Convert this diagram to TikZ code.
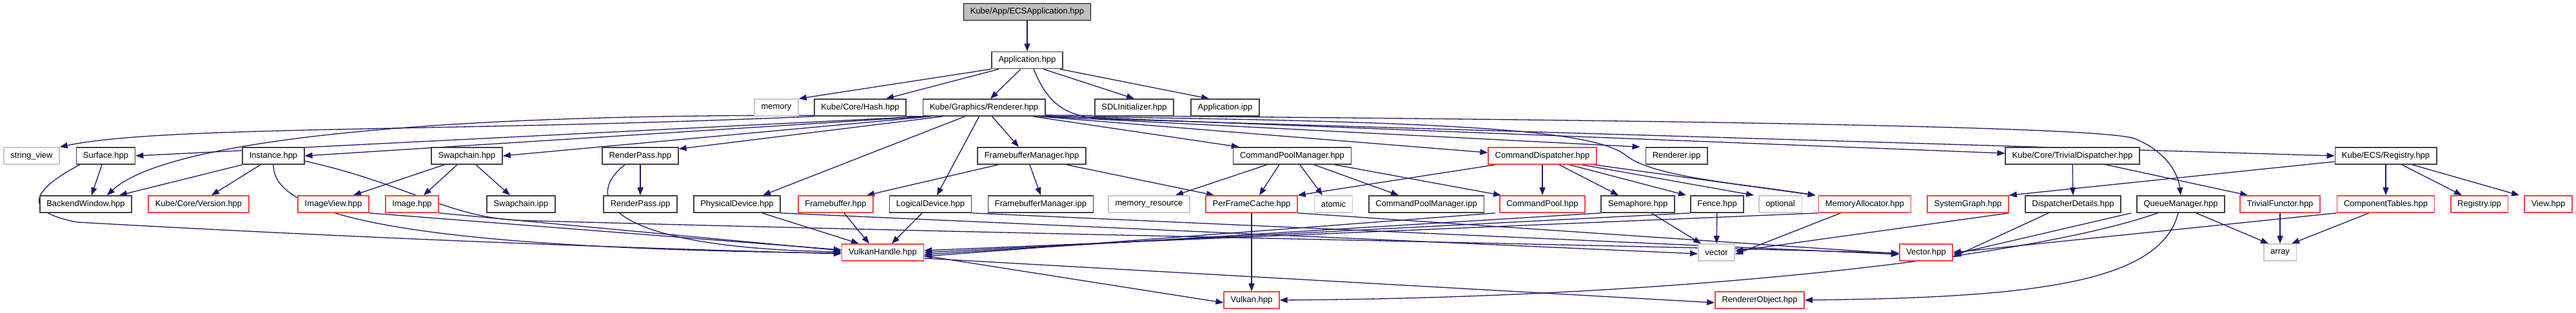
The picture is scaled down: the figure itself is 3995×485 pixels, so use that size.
\documentclass[tikz,border=0pt]{standalone}
\usepackage{fontspec}
\setmainfont{Liberation Sans}
\usetikzlibrary{arrows.meta}
\pgfdeclarelayer{background}
\pgfsetlayers{background,main}
\definecolor{edgeblue}{HTML}{191970}
\definecolor{boxblack}{HTML}{404040}
\definecolor{boxred}{HTML}{FF4040}
\definecolor{sysgray}{HTML}{C8C8C8}
\definecolor{rootgray}{HTML}{BFBFBF}
\tikzset{
  box/.style={draw=boxblack, line width=1.6pt, fill=white, inner xsep=10.5pt, inner ysep=0pt,
    minimum height=26pt, font=\fontsize{13}{15}\selectfont},
  redbox/.style={box, draw=boxred},
  sysbox/.style={box, draw=sysgray},
  rootbox/.style={box, fill=rootgray, draw=black},
  e/.style={draw=edgeblue, line width=1.3pt, -{Triangle[length=12pt,width=9pt]}},
}
\begin{document}
\begin{tikzpicture}[x=1pt,y=-1pt]
\useasboundingbox (0,0) rectangle (3995,485);
% row 0
\node[rootbox] (ecs) at (1593,18.5) {Kube/App/ECSApplication.hpp};
% row 1
\node[box] (app) at (1593,93.5) {Application.hpp};
% row 2
\node[sysbox] (mem) at (1204,167) {memory};
\node[box] (hash) at (1334,167) {Kube/Core/Hash.hpp};
\node[box] (rend) at (1526,167) {Kube/Graphics/Renderer.hpp};
\node[box] (sdl) at (1759,167) {SDLInitializer.hpp};
\node[box] (aipp) at (1900,167) {Application.ipp};
% row 3
\node[sysbox] (sv) at (49,242) {string\_view};
\node[box] (surf) at (164,242) {Surface.hpp};
\node[box] (inst) at (424,242) {Instance.hpp};
\node[box] (swap) at (724,242) {Swapchain.hpp};
\node[box] (rp) at (993,242) {RenderPass.hpp};
\node[box] (fbm) at (1600,242) {FramebufferManager.hpp};
\node[box] (cpm) at (2004,242) {CommandPoolManager.hpp};
\node[redbox] (cd) at (2392,242) {CommandDispatcher.hpp};
\node[box] (ripp) at (2600,242) {Renderer.ipp};
\node[box] (td) at (3214,242) {Kube/Core/TrivialDispatcher.hpp};
\node[box] (reg) at (3700,242) {Kube/ECS/Registry.hpp};
% row 4
\node[box] (bw) at (133,317) {BackendWindow.hpp};
\node[redbox] (ver) at (308,317) {Kube/Core/Version.hpp};
\node[redbox] (iv) at (517,317) {ImageView.hpp};
\node[redbox] (img) at (639,317) {Image.hpp};
\node[box] (sipp) at (808,317) {Swapchain.ipp};
\node[box] (rpipp) at (993,317) {RenderPass.ipp};
\node[box] (pd) at (1143,317) {PhysicalDevice.hpp};
\node[redbox] (fb) at (1296,317) {Framebuffer.hpp};
\node[box] (ld) at (1443,317) {LogicalDevice.hpp};
\node[box] (fbmipp) at (1614,317) {FramebufferManager.ipp};
\node[sysbox] (mres) at (1782,317) {memory\_resource};
\node[redbox] (pfc) at (1941,317) {PerFrameCache.hpp};
\node[sysbox] (atom) at (2068,317) {atomic};
\node[box] (cpmipp) at (2212,317) {CommandPoolManager.ipp};
\node[redbox] (cp) at (2392,317) {CommandPool.hpp};
\node[box] (sem) at (2540,317) {Semaphore.hpp};
\node[box] (fence) at (2663,317) {Fence.hpp};
\node[sysbox] (opt) at (2761,317) {optional};
\node[redbox] (ma) at (2892,317) {MemoryAllocator.hpp};
\node[redbox] (sg) at (3052,317) {SystemGraph.hpp};
\node[box] (dd) at (3215,317) {DispatcherDetails.hpp};
\node[box] (qm) at (3382,317) {QueueManager.hpp};
\node[redbox] (tf) at (3536,317) {TrivialFunctor.hpp};
\node[redbox] (ct) at (3700,317) {ComponentTables.hpp};
\node[redbox] (regipp) at (3845,317) {Registry.ipp};
\node[redbox] (view) at (3952,317) {View.hpp};
% row 5
\node[redbox] (vh) at (1369,392) {VulkanHandle.hpp};
\node[sysbox] (vec) at (2662,392) {vector};
\node[redbox] (vecH) at (2987,392) {Vector.hpp};
\node[sysbox] (arr) at (3536,392) {array};
% row 6
\node[redbox] (vk) at (1941,466) {Vulkan.hpp};
\node[redbox] (ro) at (2729,466) {RendererObject.hpp};

\begin{pgfonlayer}{background}
% ECS / Application
\draw[e] (ecs) -- (app);
\draw[e] (app.south west) -- (mem.north east);
\draw[e] ([xshift=12pt]app.south west) -- ([xshift=40pt]hash.north);
\draw[e] ([xshift=-10pt]app.south) -- ([xshift=10pt]rend.north);
\draw[e] ([xshift=25pt]app.south) -- (sdl.north);
\draw[e] ([xshift=-5pt]app.south east) -- ([xshift=-25pt]aipp.north);
\draw[e] ([xshift=10pt]app.south) .. controls (1625,160) and (1650,183) .. (1720,185) -- (reg.west);
% Hash
\draw[e] (hash.south west) .. controls (700,205) and (250,195) .. (sv.north east);
% Renderer fan
\draw[e] ([xshift=2pt]rend.south west) -- (surf.east);
\draw[e] ([xshift=6pt]rend.south west) -- (inst.east);
\draw[e] ([xshift=14pt]rend.south west) -- (swap.east);
\draw[e] ([xshift=32pt]rend.south west) -- ([yshift=-3pt]rp.north east);
\draw[e] ([xshift=4pt]rend.south west) .. controls (700,170) and (260,215) .. ([xshift=33pt]bw.north);
\draw[e] ([xshift=66pt]rend.south west) -- ([xshift=40pt]pd.north);
\draw[e] ([xshift=88pt]rend.south west) -- ([xshift=10pt]ld.north);
\draw[e] ([xshift=108pt]rend.south west) -- ([xshift=-20pt]fbm.north);
\draw[e] ([xshift=-20pt]rend.south east) -- ([xshift=10pt]cpm.north west);
\draw[e] ([xshift=-10pt]rend.south east) -- ([yshift=5pt]cd.west);
\draw[e] ([xshift=-4pt]rend.south east) -- ([xshift=-8pt]ripp.north west);
\draw[e] (rend.south east) .. controls (2300,188) and (2470,205) .. (2520,240) .. controls (2560,275) and (2700,285) .. ([xshift=-4pt]ma.north west);
\draw[e] ([yshift=2pt]rend.south east) .. controls (2500,186) and (3250,195) .. (3310,215) .. controls (3360,235) and (3378,270) .. (qm.north);
\draw[e] ([yshift=1pt]rend.south east) -- ([yshift=4pt]td.west);
% Surface / Instance
\draw[e] ([xshift=-6pt]surf.south) -- ([xshift=9pt]bw.north);
\draw[e] ([xshift=6pt]surf.south west) .. controls (40,300) and (40,330) .. (120,345) .. controls (600,372) and (1000,386) .. ([yshift=-2pt]vh.west);
\draw[e] (inst.south west) -- ([xshift=52pt]bw.north);
\draw[e] ([xshift=-20pt]inst.south) -- ([xshift=20pt]ver.north);
\draw[e] (inst.south) .. controls (423,330) and (600,385) .. ([yshift=-1pt]vh.west);
\draw[e] ([yshift=-8pt]inst.east) .. controls (630,285) and (690,335) .. (800,342) .. controls (1500,362) and (2500,380) .. ([yshift=-1pt]vecH.west);
% Swapchain
\draw[e] ([xshift=-35pt]swap.south) -- ([xshift=31pt]iv.north);
\draw[e] ([xshift=-15pt]swap.south) -- ([xshift=18pt]img.north);
\draw[e] ([xshift=14pt]swap.south) -- ([xshift=-17pt]sipp.north);
\draw[e] (iv.south east) -- ([yshift=4pt]vh.west);
\draw[e] (img.south east) -- ([yshift=3pt]vh.west);
% RenderPass
\draw[e] (rp) -- (rpipp);
\draw[e] ([xshift=-24pt]rp.south) .. controls (900,310) and (950,385) .. ([yshift=1pt]vh.west);
% devices
\draw[e] ([xshift=39pt]pd.south) -- ([xshift=-37pt]vh.north);
\draw[e] (pd.south east) -- ([yshift=-2pt]vec.west);
\draw[e] ([xshift=13pt]fb.south) -- ([xshift=-21pt]vh.north);
\draw[e] ([xshift=-13pt]ld.south) -- ([xshift=14pt]vh.north);
\draw[e] (ld.south east) -- ([yshift=-3pt]vecH.west);
% FramebufferManager
\draw[e] ([xshift=-52pt]fbm.south) -- ([xshift=48pt]fb.north);
\draw[e] ([xshift=-3pt]fbm.south) -- (fbmipp.north);
\draw[e] ([xshift=54pt]fbm.south) -- ([xshift=-58pt]pfc.north);
% CommandPoolManager
\draw[e] ([xshift=53pt]cpm.south west) -- ([xshift=41pt]mres.north);
\draw[e] ([xshift=72pt]cpm.south west) -- ([xshift=12pt]pfc.north);
\draw[e] ([xshift=12pt]cpm.south) -- ([xshift=-17pt]atom.north);
\draw[e] ([xshift=34pt]cpm.south) -- ([xshift=-43pt]cpmipp.north);
\draw[e] ([xshift=66pt]cpm.south) -- ([xshift=-64pt]cp.north);
% CommandDispatcher
\draw[e] ([xshift=-73pt]cd.south) -- (pfc.north east);
\draw[e] (cd) -- (cp);
\draw[e] ([xshift=26pt]cd.south) -- ([xshift=-30pt]sem.north);
\draw[e] ([xshift=42pt]cd.south) -- ([xshift=-48pt]fence.north);
\draw[e] ([xshift=61pt]cd.south) -- ([xshift=-41pt]opt.north);
\draw[e] ([xshift=80pt]cd.south) -- ([xshift=-4pt]ma.north west);
% row 4 to row 5
\draw[e] (pfc) -- (vk);
\draw[e] ([xshift=72pt]pfc.south) -- ([yshift=-2pt]vecH.west);
\draw[e] ([xshift=-73pt]cp.south) -- ([yshift=-6pt]vh.east);
\draw[e] (sem.south west) -- ([yshift=-3pt]vh.east);
\draw[e] ([xshift=21pt]sem.south) -- ([xshift=-24pt]vec.north);
\draw[e] (fence.south west) -- ([yshift=0pt]vh.east);
\draw[e] (fence) -- (vec);
\draw[e] (ma.south west) -- ([yshift=3pt]vh.east);
\draw[e] ([xshift=35pt]ma.south west) -- ([yshift=-3pt]vec.east);
\draw[e] (sg.south east) -- ([yshift=2pt]vec.east);
\draw[e] ([xshift=-38pt]dd.south) -- ([yshift=-7pt]vecH.east);
\draw[e] ([xshift=-8pt]qm.south west) -- ([yshift=-3pt]vecH.east);
\draw[e] (ct.south west) -- ([yshift=0pt]vecH.east);
\draw[e] ([xshift=24pt]qm.south) -- ([xshift=-18pt]arr.north);
\draw[e] (tf) -- (arr);
\draw[e] ([xshift=-26pt]ct.south) -- ([xshift=18pt]arr.north);
\draw[e] ([xshift=-36pt]qm.south) .. controls (3150,400) and (2600,462) .. (vk.east);
\draw[e] ([xshift=-4pt]qm.south) .. controls (3350,440) and (3150,462) .. (ro.east);
\draw[e] ([yshift=-5pt]vh.east) -- ([yshift=-4pt]vk.west);
\draw[e] ([yshift=-9pt]vh.east) -- ([yshift=-4pt]ro.west);
% Registry / TrivialDispatcher
\draw[e] ([yshift=-9pt]reg.west) -- (sg.north east);
\draw[e] (reg) -- (ct);
\draw[e] ([xshift=25pt]reg.south) -- ([xshift=-27pt]regipp.north);
\draw[e] ([xshift=41pt]reg.south) -- ([xshift=-45pt]view.north);
\draw[e] (td) -- (dd);
\draw[e] ([xshift=52pt]td.south) -- ([xshift=-50pt]tf.north);
\end{pgfonlayer}
\end{tikzpicture}
\end{document}
